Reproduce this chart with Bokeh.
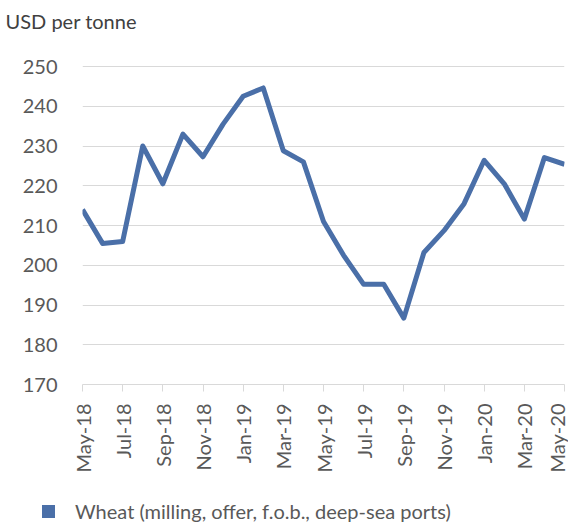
from bokeh.plotting import figure
from bokeh.layouts import column
from bokeh.models import Range1d, FixedTicker, ColumnDataSource, Div
from bokeh.embed import file_html
from bokeh.resources import INLINE

months = ["May-18", "Jun-18", "Jul-18", "Aug-18", "Sep-18", "Oct-18", "Nov-18", "Dec-18",
          "Jan-19", "Feb-19", "Mar-19", "Apr-19", "May-19", "Jun-19", "Jul-19", "Aug-19",
          "Sep-19", "Oct-19", "Nov-19", "Dec-19", "Jan-20", "Feb-20", "Mar-20", "Apr-20", "May-20"]
wheat = [214, 205.5, 206, 230, 220.5, 233, 227.3, 235.5, 242.5, 244.6, 228.8, 226,
         211, 202.5, 195.2, 195.2, 186.7, 203.2, 208.7, 215.5, 226.4, 220.5, 211.6, 227.1, 225.4]
y_ticks = [170, 180, 190, 200, 210, 220, 230, 240, 250]
series_name = "Wheat (milling, offer, f.o.b., deep-sea ports)"

FONT = "Lato"
LINE = "#4a6fa8"
GRID = "#d9d9d9"
TXT = "#595959"

FH = 348
y_top = y_ticks[0] + (y_ticks[-1] - y_ticks[0]) * FH / 318.0

x = list(range(len(months)))
src = ColumnDataSource(dict(x=x, y=wheat, m=months))

p = figure(frame_width=482, frame_height=FH, output_backend="svg", toolbar_location=None,
           x_range=Range1d(0, len(months) - 1), y_range=Range1d(y_ticks[0], y_top),
           min_border_left=82, min_border_right=4, min_border_top=36, min_border_bottom=106,
           title="USD per tonne")
p.outline_line_color = None
p.background_fill_color = "white"

p.title.text_font = FONT
p.title.text_font_size = "20px"
p.title.text_font_style = "normal"
p.title.text_color = "#404040"
p.title.offset = -77
p.title.standoff = 8

p.line("x", "y", source=src, line_color=LINE, line_width=5, line_join="round")

p.yaxis.ticker = FixedTicker(ticks=y_ticks)
p.yaxis.axis_line_color = None
p.yaxis.major_tick_line_color = None
p.yaxis.minor_tick_line_color = None
p.yaxis.major_label_text_font = FONT
p.yaxis.major_label_text_font_size = "20px"
p.yaxis.major_label_text_color = TXT
p.yaxis.major_label_standoff = 19

xt = x[::2]
p.xaxis.ticker = FixedTicker(ticks=xt)
p.xaxis.major_label_overrides = {i: months[i] for i in xt}
p.xaxis.major_label_orientation = 3.14159265 / 2
p.xaxis.axis_line_color = GRID
p.xaxis.major_tick_line_color = GRID
p.xaxis.major_tick_out = 7
p.xaxis.major_tick_in = 0
p.xaxis.minor_tick_line_color = None
p.xaxis.major_label_text_font = FONT
p.xaxis.major_label_text_font_size = "20px"
p.xaxis.major_label_text_color = TXT
p.xaxis.major_label_standoff = 12

p.xgrid.grid_line_color = None
p.ygrid.ticker = FixedTicker(ticks=y_ticks[1:])
p.ygrid.grid_line_color = GRID
p.ygrid.grid_line_width = 1

# legend strip below the chart
legend_html = (
    '<div style="font-family:Lato, sans-serif;font-size:20px;color:%s;line-height:24px;'
    'padding-top:9px;padding-left:42px;white-space:nowrap;">'
    '<span style="display:inline-block;width:13px;height:13px;background:%s;'
    'margin-right:20px;vertical-align:1px;"></span>%s</div>' % (TXT, LINE, series_name)
)
leg = Div(text=legend_html, width=568, height=32, styles={"margin": "0", "padding": "0"})

open("out.html", "w").write(file_html(column(p, leg), INLINE))
